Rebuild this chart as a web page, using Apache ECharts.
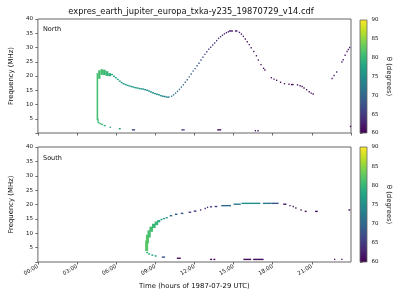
<!DOCTYPE html>
<html>
<head>
<meta charset="utf-8">
<script src="https://cdn.jsdelivr.net/npm/echarts@6/dist/echarts.min.js"></script>
<style>
  html, body { margin: 0; padding: 0; background: #fff; }
  #chart { width: 400px; height: 300px; }
</style>
</head>
<body>
<div id="chart"></div>
<script>
// ---- data ----
// bands: [hourStart, hourEnd, freqLow, freqHigh, theta]
var northBands = [
  [4.50, 4.62, 4.5, 21.0, 81], [4.56, 4.66, 3.6, 5.0, 81], [4.62, 4.80, 19.0, 22.0, 81],
  [4.80, 5.00, 20.4, 22.4, 81], [5.00, 5.20, 20.3, 22.2, 80], [5.20, 5.40, 20.0, 21.7, 80],
  [5.40, 5.60, 19.9, 21.0, 79]
];
// dashes: [hourStart, hourEnd, freq, theta]
var northDashes = [
  [5.60, 5.75, 20.5, 79], [5.75, 5.90, 19.9, 78], [5.90, 6.05, 19.4, 78], [6.05, 6.20, 18.8, 78],
  [6.20, 6.35, 18.2, 77], [6.35, 6.50, 17.7, 77], [6.50, 6.65, 17.3, 77], [6.65, 6.80, 17.0, 77],
  [6.80, 6.95, 16.7, 76], [6.95, 7.10, 16.5, 76], [7.10, 7.25, 16.3, 76], [7.25, 7.40, 16.1, 76],
  [7.40, 7.55, 15.9, 76], [7.55, 7.70, 15.8, 76], [7.70, 7.85, 15.6, 76], [7.85, 8.00, 15.5, 76],
  [8.00, 8.15, 15.4, 75], [8.15, 8.30, 15.2, 75], [8.30, 8.45, 15.0, 75], [8.45, 8.60, 14.7, 75],
  [8.60, 8.75, 14.4, 75], [8.75, 8.90, 14.1, 75], [8.90, 9.05, 13.8, 75], [9.05, 9.20, 13.6, 75],
  [9.20, 9.35, 13.4, 75], [9.35, 9.50, 13.1, 75], [9.50, 9.65, 12.9, 74], [9.65, 9.80, 12.8, 74],
  [9.80, 9.95, 12.6, 74], [9.95, 10.10, 12.6, 73],
  [4.62, 4.72, 3.6, 81], [4.72, 4.85, 3.3, 80], [4.85, 5.00, 3.0, 80], [5.05, 5.20, 2.6, 79],
  [5.50, 5.60, 2.0, 78], [6.20, 6.35, 1.5, 77],
  [14.65, 14.95, 35.8, 62], [15.10, 15.30, 35.8, 62], [19.40, 19.60, 17.0, 61],
  [7.20, 7.45, 1.1, 66], [11.00, 11.25, 1.1, 66], [13.75, 14.05, 1.1, 61],
  [16.65, 16.70, 0.8, 61], [16.85, 16.90, 0.8, 61], [23.92, 24.00, 2.3, 61]
];
// dots: [hour, freq, theta]
var northDots = [
  [10.25, 12.9, 72], [10.40, 13.4, 72], [10.55, 14.0, 71], [10.70, 14.6, 71], [10.85, 15.3, 71],
  [11.00, 16.1, 70], [11.15, 16.9, 70], [11.30, 17.8, 70], [11.45, 18.7, 69], [11.60, 19.7, 69],
  [11.75, 20.7, 69], [11.90, 21.7, 68], [12.05, 22.6, 68], [12.20, 23.6, 68], [12.35, 24.5, 67],
  [12.50, 25.6, 67], [12.65, 26.6, 67], [12.80, 27.6, 66], [12.95, 28.5, 66], [13.10, 29.4, 66],
  [13.25, 30.1, 65], [13.40, 30.9, 65], [13.55, 31.6, 65], [13.70, 32.4, 64], [13.85, 33.2, 64],
  [14.00, 33.8, 64], [14.15, 34.3, 63], [14.30, 34.8, 63], [14.45, 35.2, 63], [14.60, 35.5, 62],
  [15.45, 35.3, 62], [15.60, 34.7, 62], [15.75, 33.9, 62], [15.90, 33.0, 62], [16.05, 32.0, 62],
  [16.20, 31.0, 62], [16.35, 29.9, 62], [16.55, 28.6, 61], [16.75, 27.1, 61], [16.90, 25.6, 61],
  [17.10, 24.0, 61], [17.30, 22.7, 61], [17.40, 22.1, 61], [17.90, 19.4, 61], [18.10, 18.9, 61],
  [18.30, 18.5, 61], [18.60, 17.8, 61], [18.90, 17.3, 61], [19.25, 17.1, 61], [19.90, 16.9, 61],
  [20.10, 16.6, 61], [20.25, 16.3, 61], [20.40, 15.8, 61], [20.60, 15.2, 61], [20.80, 14.5, 61],
  [20.95, 14.0, 61], [21.10, 13.7, 61],
  [22.55, 19.1, 62], [22.70, 20.2, 62], [22.90, 21.4, 62], [23.30, 24.9, 62], [23.40, 25.7, 62],
  [23.55, 27.3, 62], [23.70, 28.6, 62], [23.80, 29.3, 62], [23.90, 30.0, 62]
];

var southBands = [
  [8.22, 8.45, 3.8, 7.5, 82], [8.28, 8.52, 6.5, 9.5, 82], [8.40, 8.65, 8.5, 11.0, 81],
  [8.55, 8.82, 10.5, 12.3, 81], [8.75, 9.02, 11.8, 13.3, 80], [8.95, 9.22, 12.8, 14.1, 80],
  [9.15, 9.38, 13.8, 14.6, 79]
];
var southDashes = [
  [8.30, 8.45, 3.3, 80], [8.45, 8.60, 2.8, 79], [8.70, 8.85, 2.4, 77], [8.95, 9.10, 2.1, 76],
  [9.50, 9.75, 1.7, 68], [10.65, 10.95, 1.3, 61], [13.20, 13.35, 0.9, 61], [13.45, 13.60, 0.9, 61],
  [15.75, 16.35, 0.9, 61], [16.50, 17.30, 0.9, 61], [22.70, 22.80, 0.9, 61], [23.25, 23.35, 0.9, 61],
  [9.40, 9.55, 14.8, 77], [9.60, 9.75, 15.1, 76], [9.80, 9.95, 15.4, 75], [10.10, 10.30, 16.1, 71],
  [10.50, 10.70, 16.6, 69], [10.95, 11.15, 16.9, 68], [11.55, 11.75, 17.3, 66], [11.95, 12.15, 17.7, 64],
  [12.45, 12.50, 18.1, 63], [12.80, 12.85, 18.6, 63], [12.98, 13.03, 19.0, 63], [13.20, 13.35, 19.2, 64],
  [13.55, 13.75, 19.3, 65], [14.05, 14.80, 19.6, 70], [15.00, 15.55, 20.1, 72], [15.60, 17.05, 20.4, 75],
  [17.25, 17.90, 20.4, 72], [17.90, 18.45, 20.4, 68], [18.80, 19.05, 20.1, 62], [19.30, 19.35, 19.6, 61],
  [19.55, 19.60, 19.3, 61], [19.75, 19.80, 18.8, 61], [20.15, 20.20, 18.1, 61], [20.45, 20.60, 17.6, 61],
  [21.25, 21.45, 17.6, 61], [23.80, 23.95, 18.1, 62]
];
var southDots = [];

var thetaMin = 60, thetaMax = 90;

// ---- styling ----
var viridis = ['#440154', '#482475', '#414487', '#355f8d', '#2a788e', '#21918c',
               '#22a884', '#44bf70', '#7ad151', '#bddf26', '#fde725'];
var font = '"DejaVu Sans", sans-serif';
var spine = '#666';
var ink = '#111';

function toCells(bands, dashes, dots) {
  var out = [];
  bands.forEach(function (b) { out.push(b); });
  dashes.forEach(function (d) { out.push([d[0], d[1], d[2], d[2], d[3]]); });
  dots.forEach(function (d) { out.push([d[0], d[0], d[1], d[1], d[2]]); });
  return out;
}

function renderCell(params, api) {
  var a = api.coord([api.value(0), api.value(2)]);
  var b = api.coord([api.value(1), api.value(3)]);
  var x0 = Math.min(a[0], b[0]), w = Math.abs(b[0] - a[0]);
  var y0 = Math.min(a[1], b[1]), h = Math.abs(b[1] - a[1]);
  if (w < 1.3) { x0 -= (1.3 - w) / 2; w = 1.3; }
  if (h < 1.4) { y0 -= (1.4 - h) / 2; h = 1.4; }
  return { type: 'rect', shape: { x: x0, y: y0, width: w, height: h },
           style: { fill: api.visual('color') } };
}

function renderColorbar(params, api) {
  var p0 = api.coord([0, thetaMin]);
  var p1 = api.coord([1, thetaMax]);
  var stops = viridis.map(function (c, i) { return { offset: i / (viridis.length - 1), color: c }; });
  return { type: 'rect',
           shape: { x: p0[0], y: p1[1], width: p1[0] - p0[0], height: p0[1] - p1[1] },
           style: { fill: new echarts.graphic.LinearGradient(0, 1, 0, 0, stops), stroke: spine, lineWidth: 0.8 } };
}

function timeAxis(grid, showLabels) {
  return {
    type: 'value', gridIndex: grid, min: 0, max: 24, interval: 3,
    axisLine: { show: false },
    axisTick: { show: true, length: 2.5, lineStyle: { color: spine } },
    splitLine: { show: false },
    axisLabel: {
      show: showLabels, rotate: 30, margin: 4, fontSize: 5.5, fontFamily: font, color: ink,
      showMaxLabel: false,
      formatter: function (v) { return (v < 10 ? '0' : '') + v + ':00'; }
    },
    name: showLabels ? 'Time (hours of 1987-07-29 UTC)' : '',
    nameLocation: 'middle', nameGap: 21,
    nameTextStyle: { fontSize: 6.9, fontFamily: font, color: ink }
  };
}

function freqAxis(grid) {
  return {
    type: 'value', gridIndex: grid, min: 0, max: 40, interval: 5,
    axisLine: { show: false },
    axisTick: { show: true, length: 2.5, lineStyle: { color: spine } },
    splitLine: { show: false },
    axisLabel: { margin: 5, fontSize: 5.5, fontFamily: font, color: ink,
                 formatter: function (v) { return v === 0 ? '' : v; } },
    name: 'Frequency (MHz)', nameLocation: 'middle', nameGap: 18,
    nameTextStyle: { fontSize: 6.9, fontFamily: font, color: ink }
  };
}

function barXAxis(grid) {
  return { type: 'value', gridIndex: grid, min: 0, max: 1, show: false };
}

function thetaAxis(grid) {
  return {
    type: 'value', gridIndex: grid, position: 'right', min: thetaMin, max: thetaMax, interval: 5,
    axisLine: { show: false },
    axisTick: { show: true, length: 2.5, lineStyle: { color: spine } },
    splitLine: { show: false },
    axisLabel: { margin: 4.5, fontSize: 5.5, fontFamily: font, color: ink },
    name: 'θ (degrees)', nameLocation: 'middle', nameGap: 18, nameRotate: -90,
    nameTextStyle: { fontSize: 6.9, fontFamily: font, color: ink }
  };
}

var chart = echarts.init(document.getElementById('chart'), null, { renderer: 'canvas' });
var option = {
  animation: false,
  backgroundColor: '#fff',
  graphic: [
    { type: 'text', x: 191, y: 12,
      style: { text: 'expres_earth_jupiter_europa_txka-y235_19870729_v14.cdf', font: '8.3px ' + font,
               fill: ink, textAlign: 'center', textVerticalAlign: 'middle', align: 'center', verticalAlign: 'middle' } },
    { type: 'text', x: 43, y: 29,
      style: { text: 'North', font: '6.5px ' + font, fill: ink,
               textVerticalAlign: 'middle', verticalAlign: 'middle' } },
    { type: 'text', x: 43, y: 158,
      style: { text: 'South', font: '6.5px ' + font, fill: ink,
               textVerticalAlign: 'middle', verticalAlign: 'middle' } }
  ],
  grid: [
    { left: 31, top: 19, width: 320, height: 114, show: true, borderColor: spine, borderWidth: 1 },
    { left: 31, top: 147, width: 320, height: 115, show: true, borderColor: spine, borderWidth: 1 },
    { left: 360, top: 20, width: 7, height: 113 },
    { left: 360, top: 147, width: 7, height: 115 }
  ],
  xAxis: [timeAxis(0, false), timeAxis(1, true), barXAxis(2), barXAxis(3)],
  yAxis: [freqAxis(0), freqAxis(1), thetaAxis(2), thetaAxis(3)],
  visualMap: [
    { type: 'continuous', show: false, seriesIndex: 0, dimension: 4, min: thetaMin, max: thetaMax,
      inRange: { color: viridis } },
    { type: 'continuous', show: false, seriesIndex: 1, dimension: 4, min: thetaMin, max: thetaMax,
      inRange: { color: viridis } }
  ],
  series: [
    { name: 'North', type: 'custom', xAxisIndex: 0, yAxisIndex: 0, renderItem: renderCell,
      encode: { x: [0, 1], y: [2, 3] }, data: toCells(northBands, northDashes, northDots) },
    { name: 'South', type: 'custom', xAxisIndex: 1, yAxisIndex: 1, renderItem: renderCell,
      encode: { x: [0, 1], y: [2, 3] }, data: toCells(southBands, southDashes, southDots) },
    { type: 'custom', xAxisIndex: 2, yAxisIndex: 2, renderItem: renderColorbar, data: [[0]], silent: true },
    { type: 'custom', xAxisIndex: 3, yAxisIndex: 3, renderItem: renderColorbar, data: [[0]], silent: true }
  ]
};
chart.setOption(option);
</script>
</body>
</html>
